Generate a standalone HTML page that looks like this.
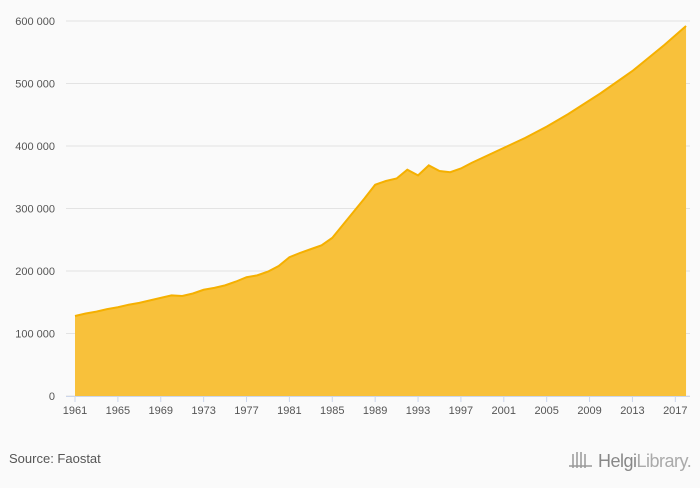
<!DOCTYPE html>
<html><head><meta charset="utf-8"><style>
body{margin:0;background:#fafafa;font-family:"Liberation Sans",sans-serif;}
svg text{font-family:"Liberation Sans",sans-serif;}
</style></head><body>
<svg width="700" height="483">
<rect width="700" height="483" fill="#fafafa"/>
<g id="grid"></g><g id="area"></g><g id="xaxis"></g>
<text x="9" y="463" font-size="13" fill="#555">Source: Faostat</text>
<g>
<g stroke="#999" stroke-width="1.5"><line x1="573" y1="468" x2="573" y2="454"/><line x1="577" y1="468" x2="577" y2="452"/><line x1="581" y1="468" x2="581" y2="452"/><line x1="585" y1="468" x2="585" y2="454"/><line x1="569" y1="466" x2="592" y2="466"/></g>
<text x="598" y="467" font-size="18" fill="#888" letter-spacing="-0.5">Helgi<tspan fill="#aaa">Library.</tspan></text>
</g>
</svg>
<script>
const years=[];for(let y=1961;y<=2018;y++)years.push(y);
const values=[128,132,135,139,142,146,149,153,157,161,160,164,170,173,177,183,190,193,199,208,222,229,235,241,253,274,295,316,338,344,348,362,353,369,360,358,364,373,381,389,397,405,413,422,431,441,451,462,473,484,496,508,520,534,548,562,577,592];
const yTicks=[0,100,200,300,400,500,600];
const yTickLabels=["0","100 000","200 000","300 000","400 000","500 000","600 000"];
const xTickLabels=[1961,1965,1969,1973,1977,1981,1985,1989,1993,1997,2001,2005,2009,2013,2017];
const vals=values.slice(0,years.length);
const X=y=>75+(y-1961)*10.72, Y=v=>396-v*0.625;
const ns="http://www.w3.org/2000/svg";
function mk(t,a,p){const e=document.createElementNS(ns,t);for(const k in a)e.setAttribute(k,a[k]);p.appendChild(e);return e;}
const g=document.getElementById('grid');
yTicks.forEach((t,i)=>{
 const l=mk('line',{x1:66,x2:690,y1:Y(t),y2:Y(t),stroke:'#e3e3e3','stroke-width':1},g);
 
 
 const tx=mk('text',{x:55,y:Y(t)+4,'font-size':11,fill:'#555','text-anchor':'end'},g);
 tx.textContent=yTickLabels[i];
 
 
});
const a=document.getElementById('area');
let d='M'+X(years[0])+','+Y(0);
vals.forEach((v,i)=>d+=' L'+X(years[i])+','+Y(v));
d+=' L'+X(years[vals.length-1])+','+Y(0)+'Z';
const p=mk('path',{d:d,fill:'#f8c13b'},a);


const ln=mk('polyline',{points:vals.map((v,i)=>X(years[i])+','+Y(v)).join(' '),fill:'none',stroke:'#f5b000','stroke-width':2},a);


const xa=document.getElementById('xaxis');
const ax=mk('line',{x1:66,x2:690,y1:396.5,y2:396.5,stroke:'#ccd6eb'},xa);


xTickLabels.forEach(yr=>{
 mk('line',{x1:X(yr),x2:X(yr),y1:396,y2:402,stroke:'#ccd6eb'},xa);
 const t=mk('text',{x:X(yr),y:414,'font-size':11,fill:'#555','text-anchor':'middle'},xa);
 t.textContent=yr;
 
 
});
</script>
</body></html>
